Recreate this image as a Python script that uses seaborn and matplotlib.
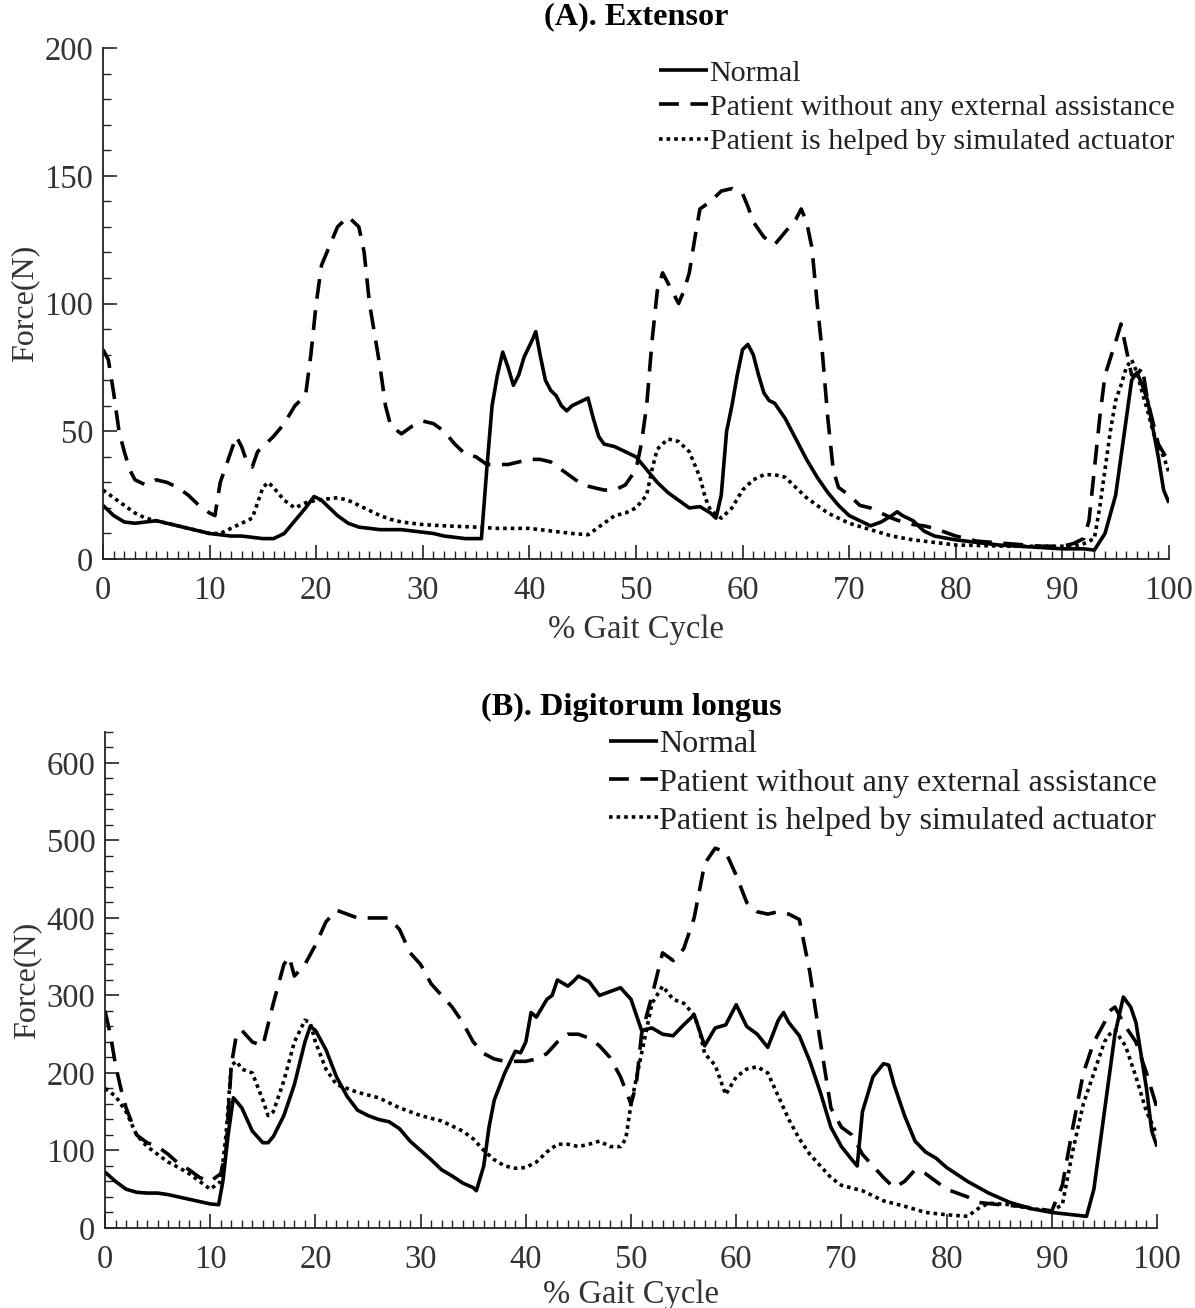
import matplotlib
matplotlib.use("Agg")
import matplotlib.pyplot as plt
from matplotlib.ticker import MultipleLocator
import seaborn as sns
import numpy as np

# ---------------- Panel A: Extensor ----------------
ext_normal_x = [0, 1, 2, 3, 4, 5, 6, 7, 8, 9, 10, 11, 12, 13, 14, 15, 16, 17, 18, 19, 19.8, 20.5, 21, 22, 23, 24, 25,
                26, 27, 28, 29, 30, 31, 32, 33, 34, 35, 35.5, 36, 36.5, 37, 37.5, 38, 38.5, 39, 39.5, 40.3, 40.6, 41,
                41.5, 42, 42.5, 43, 43.5, 44, 45, 45.5, 46, 46.5, 47, 48, 49, 50, 51, 52, 53, 54, 55, 56, 57, 57.5,
                58, 58.5, 59, 59.5, 60, 60.5, 61, 61.5, 62, 62.5, 63, 63.5, 64, 65, 66, 67, 68, 69, 70, 71, 72, 73,
                74, 74.5, 75, 76, 77, 78, 80, 82, 84, 86, 88, 90, 92, 93, 94, 95, 96, 96.5, 97, 97.5, 98, 99, 99.5, 100]
ext_normal_y = [21, 17, 14.5, 14, 14.5, 15, 14, 13, 12, 11, 10, 9.5, 9, 9, 8.5, 8, 8, 10, 15, 20, 24.5, 23, 21, 17, 14,
                12.5, 12, 11.5, 11.5, 11.5, 11, 10.5, 10, 9, 8.5, 8, 8, 8, 35, 60, 72, 81, 75, 68, 72, 79, 86, 89, 80,
                70, 66, 64, 60, 58, 60, 62, 63, 55, 48, 45, 44, 42, 40, 35, 30, 26, 23, 20, 20.5, 18, 16,
                25, 50, 60, 72, 82, 84, 80, 72, 65, 62, 61, 58, 55, 47, 39, 32, 26, 21, 17, 15, 13, 14.5,
                17, 18.5, 17, 15, 11, 9, 7.5, 6.5, 5.5, 5, 4.5, 4, 4, 3.5, 10, 25, 55, 70, 73, 68, 62, 40, 27, 22]

ext_patient_x = [0, 0.5, 1, 1.5, 2, 2.5, 3, 4, 5, 6, 7, 8, 9, 10, 10.5, 11, 11.5, 12, 12.5, 13, 13.5, 14, 14.5, 15, 16,
                 17, 18, 19, 19.5, 20, 20.5, 21, 22, 23, 24, 24.5, 25, 26, 26.5, 27, 28, 29, 30, 31, 32, 33, 34, 35,
                 36, 37, 38, 39, 40, 41, 42, 43, 44, 45, 46, 47, 48, 49, 50, 50.5, 51, 51.5, 52, 52.5, 53, 54, 54.5,
                 55, 55.5, 56, 57, 58, 59, 60, 60.5, 61, 62, 63, 64, 65, 65.5, 66, 66.5, 67, 67.5, 68, 68.5, 69, 70,
                 71, 72, 73, 74, 75, 76, 77, 78, 80, 82, 85, 88, 90, 91, 92, 92.5, 93, 93.5, 94, 95, 95.5, 96, 96.5,
                 97, 97.5, 98, 99, 100]
ext_patient_y = [82, 78, 65, 50, 42, 35, 31, 29, 31, 30, 28, 25, 21, 18, 17, 30, 36, 42, 48, 44, 38, 36, 42, 44, 48,
                 53, 60, 64, 80, 100, 115, 120, 130, 134, 130, 120, 100, 75, 60, 52, 49, 52, 54, 53, 50, 45, 41, 40,
                 37, 37, 37, 38, 39, 39, 38, 35, 32, 29, 28, 27, 27, 29, 35, 45, 60, 85, 105, 112, 108, 100, 105,
                 112, 125, 137, 140, 144, 145, 143, 138, 132, 126, 123, 128, 133, 137, 132, 122, 100, 80, 55, 35, 28,
                 25, 21, 20, 18, 16, 14.5, 13.5, 13, 12, 9, 7, 6, 5, 5, 6, 8, 15, 35, 55, 72, 85, 92, 82, 72,
                 72, 75, 62, 45, 38]

ext_helped_x = [0, 1, 2, 3, 4, 5, 6, 7, 8, 9, 10, 11, 12, 13, 14, 14.5, 15, 15.5, 16, 17, 18, 19, 20, 21, 22, 23, 24,
                25, 26, 27, 28, 30, 32, 35, 37, 40, 42, 44, 45.5, 46, 47, 48, 49, 50, 51, 51.5, 52, 53, 54, 55, 56,
                56.5, 57, 58, 59, 60, 61, 62, 63, 64, 65, 66, 67, 68, 69, 70, 72, 74, 76, 78, 80, 85, 90, 91, 92, 93,
                93.5, 94, 94.5, 95, 95.5, 96, 96.5, 97, 97.5, 98, 98.5, 99, 99.5, 100]
ext_helped_y = [27, 24, 21, 18, 16, 15, 14, 13, 12, 11, 10, 10, 12, 14, 16, 22, 28, 30, 28, 23, 20, 22, 23, 23.5, 24,
                23, 21, 19, 17, 15.5, 14.5, 13.5, 13, 12.5, 12, 12, 11, 10, 9.5, 11, 14, 17, 18, 20, 25, 35, 43, 47,
                46, 42, 32, 24, 19, 16, 20, 27, 31, 33, 33, 32, 28, 24, 21, 18, 16, 14, 11.5, 9, 7.5, 6.5, 5.5, 5, 5,
                5, 6, 8, 20, 35, 50, 62, 68, 75, 78, 73, 65, 58, 50, 44, 40, 34]

# ---------------- Panel B: Digitorum longus ----------------
dig_normal_x = [0, 1, 2, 3, 4, 5, 6, 7, 8, 9, 10, 10.8, 11.2, 11.7, 12.2, 13, 14, 15, 15.5, 16, 17, 18, 19, 19.5, 20,
                21, 22, 23, 24, 25, 26, 27, 28, 29, 30, 31, 32, 33, 34, 35, 35.3, 36, 36.5, 37, 38, 39, 39.5, 40,
                40.5, 41, 42, 42.5, 43, 44, 44.5, 45, 46, 47, 48, 49, 50, 51, 52, 53, 54, 55, 56, 57, 58, 59, 60, 61,
                62, 63, 64, 64.5, 65, 66, 67, 68, 69, 70, 71, 71.5, 72, 73, 74, 74.5, 75, 76, 77, 78, 79, 80, 82, 84,
                86, 88, 90, 92, 93.3, 94, 95, 96, 96.8, 97.5, 98, 99, 99.5, 100]
dig_normal_y = [72, 60, 50, 46, 45, 45, 43, 40, 37, 34, 31, 30, 60, 120, 168, 155, 125, 110, 110, 118, 145, 185, 240,
                260, 255, 230, 195, 170, 152, 145, 140, 137, 128, 112, 100, 88, 75, 67, 58, 52, 48, 80, 130, 165,
                200, 228, 226, 240, 278, 272, 295, 300, 320, 312, 318, 325, 318, 300, 305, 310, 295, 255, 258, 250,
                248, 262, 275, 235, 258, 262, 288, 260, 250, 233, 268, 278, 265, 248, 215, 175, 130, 105, 88, 80,
                150, 195, 212, 210, 185, 145, 112, 98, 90, 78, 60, 45, 33, 25, 20, 17, 15, 50, 150, 250, 298, 285,
                265, 180, 125, 105]

dig_patient_x = [0, 0.5, 1, 1.5, 2, 3, 4, 5, 6, 7, 8, 9, 10, 11, 11.5, 12, 12.5, 13, 14, 15, 16, 17, 17.5, 18, 19, 20,
                 21, 22, 23, 24, 25, 26, 27, 28, 29, 30, 31, 32, 33, 34, 35, 36, 37, 38, 40, 41, 42, 43, 44, 45, 46,
                 47, 48, 49, 50, 50.5, 51, 52, 53, 54, 55, 56, 57, 58, 59, 60, 61, 62, 63, 64, 65, 66, 67, 68, 69,
                 70, 71, 72, 73, 74, 75, 76, 77, 78, 79, 80, 81, 82, 83, 85, 87, 89, 90, 91, 92, 93, 94, 95, 95.5,
                 96, 97, 98, 99, 100]
dig_patient_y = [280, 250, 210, 180, 155, 120, 110, 105, 95, 83, 75, 65, 60, 70, 100, 210, 250, 255, 240, 235, 290,
                 340, 350, 325, 340, 365, 395, 410, 405, 400, 400, 400, 400, 385, 355, 340, 315, 300, 285, 265, 240,
                 225, 218, 215, 215, 218, 225, 240, 250, 250, 245, 235, 220, 195, 160, 185, 250, 300, 355, 345, 360,
                 400, 470, 490, 485, 455, 420, 408, 405, 408, 405, 398, 330, 240, 155, 130, 120, 95, 80, 65, 52, 60,
                 75, 70, 60, 50, 45, 40, 33, 30, 28, 24, 22, 55, 130, 200, 240, 265, 280, 285, 260, 240, 200, 155]

dig_helped_x = [0, 1, 2, 3, 4, 5, 6, 7, 8, 9, 10, 11, 11.5, 12, 12.5, 13, 14, 15, 15.5, 16, 17, 18, 19, 19.5, 20, 21,
                22, 24, 26, 28, 30, 32, 34, 35, 36, 37, 38, 39, 40, 41, 42, 43, 44, 45, 46, 47, 48, 49, 49.5, 50, 51,
                52, 53, 54, 55, 56, 56.5, 57, 58, 59, 60, 61, 62, 63, 64, 65, 66, 67, 68, 69, 70, 72, 74, 76, 78, 80,
                82, 83, 84, 86, 88, 90, 91, 92, 93, 94, 95, 95.5, 96, 97, 98, 99, 100]
dig_helped_y = [180, 170, 150, 120, 105, 95, 85, 78, 70, 60, 50, 60, 120, 210, 215, 205, 200, 165, 145, 150, 190, 240,
                268, 265, 240, 205, 185, 175, 168, 155, 145, 138, 125, 115, 100, 88, 80, 77, 78, 85, 98, 108, 108,
                105, 108, 112, 105, 105, 115, 160, 225, 290, 312, 295, 290, 275, 255, 225, 210, 172, 195, 205, 208,
                200, 170, 140, 115, 95, 80, 65, 55, 48, 35, 28, 20, 17, 15, 25, 32, 30, 25, 22, 30, 100, 160, 200,
                240, 250, 255, 235, 195, 150, 120]

labels = ["Normal", "Patient without any external assistance", "Patient is helped by simulated actuator"]
titles = ["(A). Extensor", "(B). Digitorum longus"]

# ---------------- Styling ----------------
sns.set_theme(style="white")
plt.rcParams["font.family"] = ["Liberation Serif", "DejaVu Serif"]
plt.rcParams["text.color"] = "#222222"
plt.rcParams["axes.labelcolor"] = "#222222"
plt.rcParams["xtick.color"] = "#222222"
plt.rcParams["ytick.color"] = "#222222"

fig = plt.figure(figsize=(11.95, 13.08), dpi=100)
axA = fig.add_axes([0.0862, 0.5726, 0.8920, 0.3907])
axB = fig.add_axes([0.0879, 0.0612, 0.8803, 0.3792])

styles = [dict(linestyle="-", lw=2.6),
          dict(linestyle=(0, (5.5, 3.2)), lw=2.6),
          dict(linestyle=(0, (1.0, 1.1)), lw=2.6)]

# per-panel layout settings
panels = [
    dict(ax=axA,
         series=[(ext_normal_x, ext_normal_y), (ext_patient_x, ext_patient_y), (ext_helped_x, ext_helped_y)],
         ylim=(0, 200), ymin=10, yticks=[0, 50, 100, 150, 200],
         anchor=(1.005, 0.977), legsize=21.6, handlelen=1.63, legspace=0.24, title_pad=17, xlabpad=6),
    dict(ax=axB,
         series=[(dig_normal_x, dig_normal_y), (dig_patient_x, dig_patient_y), (dig_helped_x, dig_helped_y)],
         ylim=(0, 640), ymin=20, yticks=[0, 100, 200, 300, 400, 500, 600],
         anchor=(1.0, 1.004), legsize=23.1, handlelen=1.52, legspace=0.27, title_pad=12, xlabpad=3),
]

for i, p in enumerate(panels):
    ax = p["ax"]
    for (xs, ys), st, lab in zip(p["series"], styles, labels):
        sns.lineplot(x=xs, y=ys, ax=ax, color="black", label=lab, estimator=None, sort=False,
                     solid_capstyle="butt", dash_capstyle="butt", **st)
    ax.set_xlim(0, 100)
    ax.set_ylim(*p["ylim"])
    ax.xaxis.set_major_locator(MultipleLocator(10))
    ax.xaxis.set_minor_locator(MultipleLocator(1))
    ax.set_yticks(p["yticks"])
    ax.yaxis.set_minor_locator(MultipleLocator(p["ymin"]))
    ax.tick_params(axis="both", which="both", bottom=True, left=True, top=False, right=False, direction="in")
    ax.tick_params(axis="both", which="major", length=10, width=1.2, labelsize=23.5, labelcolor="#333333")
    ax.tick_params(axis="both", which="minor", length=6, width=1.0)
    ax.tick_params(axis="x", which="major", pad=12)
    ax.tick_params(axis="y", which="major", pad=7)
    for s in ["top", "right"]:
        ax.spines[s].set_visible(False)
    for s in ["left", "bottom"]:
        ax.spines[s].set_color("#222222")
        ax.spines[s].set_linewidth(1.3)
    ax.set_xlabel("% Gait Cycle", fontsize=23.5, labelpad=p["xlabpad"], color="#333333")
    ax.set_ylabel("Force(N)", fontsize=23, labelpad=4, color="#333333")
    ax.set_title(titles[i], fontsize=23.2, fontweight="bold", pad=p["title_pad"], color="black")
    ax.legend(loc="upper right", bbox_to_anchor=p["anchor"], frameon=False, fontsize=p["legsize"],
              handlelength=p["handlelen"], handletextpad=0.05, labelspacing=p["legspace"], borderaxespad=0.0,
              borderpad=0.0)

fig.savefig("out.png", dpi=100)
